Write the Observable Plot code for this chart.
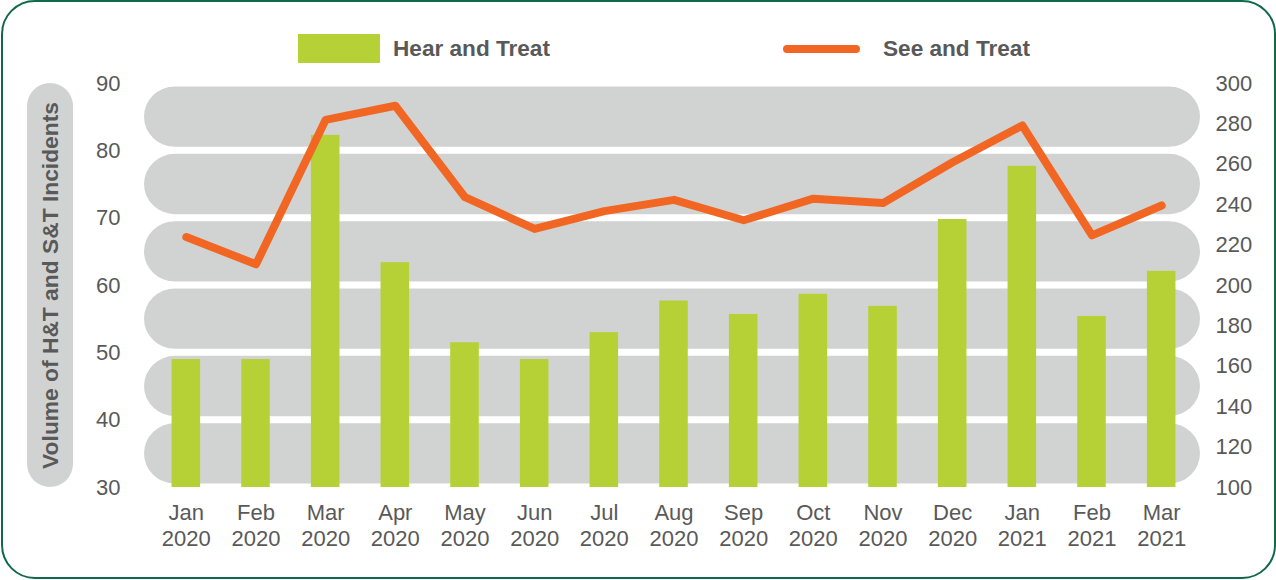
<!DOCTYPE html>
<html>
<head>
<meta charset="utf-8">
<script src="https://cdn.jsdelivr.net/npm/d3@7"></script>
<script src="https://cdn.jsdelivr.net/npm/@observablehq/plot@0.6"></script>
<style>
  html, body { margin: 0; padding: 0; background: #fff; }
  body { width: 1276px; height: 580px; position: relative; overflow: hidden;
         font-family: "Liberation Sans", Arial, sans-serif; color: #595959; }
  #legend { position: relative; height: 60px; }
  #legend .swatch { position: absolute; left: 298px; top: 34px; width: 82px; height: 29px; background: #b5d136; z-index: 1; }
  #legend .stroke { position: absolute; left: 783px; top: 45px; width: 77px; height: 8px; border-radius: 4px; background: #f26624; z-index: 1; }
  #legend .lbl { position: absolute; top: 36px; height: 26px; line-height: 26px; font-size: 22.6px; font-weight: bold; white-space: nowrap; z-index: 1; }
  #ytitle { position: absolute; left: 27px; top: 83px; width: 46px; height: 404px; border-radius: 23px;
            background: #d1d3d2; display: flex; align-items: center; justify-content: center; }
  #ytitle span { writing-mode: vertical-rl; transform: rotate(180deg); font-size: 22.8px; font-weight: bold; white-space: nowrap; }
  #frame { position: absolute; left: 1px; top: 0px; width: 1275px; height: 579px; box-sizing: border-box;
           border: 2px solid #11694a; border-radius: 34px; pointer-events: none; }
</style>
</head>
<body>
<div id="legend">
  <div class="swatch"></div><div class="lbl" style="left:393px">Hear and Treat</div>
  <div class="stroke"></div><div class="lbl" style="left:883px">See and Treat</div>
</div>
<div id="chart"></div>
<div id="ytitle"><span>Volume of H&amp;T and S&amp;T Incidents</span></div>
<div id="frame"></div>
<script>
// Monthly incident volumes, Jan 2020 – Mar 2021
const months = ["Jan", "Feb", "Mar", "Apr", "May", "Jun", "Jul", "Aug", "Sep", "Oct", "Nov", "Dec", "Jan", "Feb", "Mar"];
const years = ["2020", "2020", "2020", "2020", "2020", "2020", "2020", "2020", "2020", "2020", "2020", "2020", "2021", "2021", "2021"];
// Hear and Treat (left axis)
const hearAndTreat = [49, 49, 82.3, 63.4, 51.5, 49, 53, 57.7, 55.7, 58.7, 56.9, 69.8, 77.7, 55.4, 62.1];
// See and Treat (right axis)
const seeAndTreat = [224, 210.5, 282, 289, 243.7, 228, 236.8, 242.4, 232.3, 243, 240.8, 261, 279.2, 224.8, 239.6];

const leftTicks = [30, 40, 50, 60, 70, 80, 90];
const rightTicks = [100, 120, 140, 160, 180, 200, 220, 240, 260, 280, 300];
const bandLows = [30, 40, 50, 60, 70, 80];

// map the right-axis range [100, 300] onto the left-axis range [30, 90]
const [l0, l1] = [leftTicks[0], leftTicks[leftTicks.length - 1]];
const [r0, r1] = [rightTicks[0], rightTicks[rightTicks.length - 1]];
const toLeft = v => l0 + (v - r0) * (l1 - l0) / (r1 - r0);
const toRight = v => Math.round(r0 + (v - l0) * (r1 - r0) / (l1 - l0));

const keys = months.map((m, i) => `${m}\n${years[i]}`);
const rows = keys.map((k, i) => ({key: k, hat: hearAndTreat[i], sat: toLeft(seeAndTreat[i])}));

const chart = Plot.plot({
  width: 1276,
  height: 520,
  marginLeft: 151,
  marginRight: 80,
  marginTop: 23,
  marginBottom: 93,
  style: {fontFamily: "'Liberation Sans', Arial, sans-serif", fontSize: "22px", color: "#595959", background: "transparent"},
  x: {type: "band", domain: keys, paddingInner: 0.59, paddingOuter: 0.295, round: false, label: null},
  y: {domain: [l0, l1], label: null},
  marks: [
    // rounded grey bands between gridlines
    Plot.rect(bandLows, {y1: d => d, y2: d => d + 10, fill: "#d1d3d2", rx: 31,
      insetTop: 3.5, insetBottom: 3.5, insetLeft: -7, insetRight: -4}),
    Plot.barY(rows, {x: "key", y1: l0, y2: "hat", fill: "#b5d136"}),
    Plot.line(rows, {x: "key", y: "sat", stroke: "#f26624", strokeWidth: 8,
      strokeLinecap: "round", strokeLinejoin: "round"}),
    Plot.axisX({anchor: "bottom", tickSize: 0, tickPadding: 14, lineHeight: 1.18, label: null}),
    Plot.axisY({anchor: "left", ticks: leftTicks, tickSize: 0, tickPadding: 31, label: null}),
    Plot.axisY({anchor: "right", ticks: rightTicks.map(toLeft), tickFormat: toRight,
      tickSize: 0, tickPadding: 19, label: null})
  ]
});
document.getElementById("chart").append(chart);
</script>
</body>
</html>
